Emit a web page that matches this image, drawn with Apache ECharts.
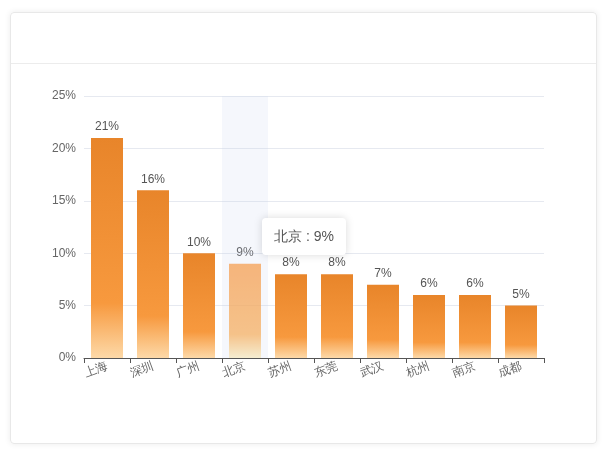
<!DOCTYPE html>
<html><head><meta charset="utf-8">
<script src="https://cdn.jsdelivr.net/npm/echarts@6/dist/echarts.min.js"></script>
<style>
body{margin:0;background:#fff;}
#card{position:absolute;left:10px;top:12px;width:587px;height:432px;border:1px solid #e8e8e8;border-radius:4px;box-shadow:0 0 6px rgba(0,0,0,0.08);box-sizing:border-box;}
#head{height:50px;border-bottom:1px solid #ececec;}
#c{position:absolute;left:0;top:0;width:616px;height:459px;}
</style></head><body>
<div id="card"><div id="head"></div></div>
<div id="c"></div>
<script>
const categories=['上海','深圳','广州','北京','苏州','东莞','武汉','杭州','南京','成都'];
const values=[21,16,10,9,8,8,7,6,6,5];
const yTicks=[0,5,10,15,20,25];
const chart=echarts.init(document.getElementById('c'));
chart.setOption({
 animation:false,
 tooltip:{trigger:'axis',axisPointer:{type:'shadow',shadowStyle:{color:'rgba(200,210,240,0.18)'}},
  formatter:p=>p[0].name+' : '+p[0].value+'%',backgroundColor:'#fff',borderWidth:0,
  textStyle:{color:'#555',fontSize:14},padding:[8,12],extraCssText:'box-shadow:0 0 8px rgba(0,0,0,0.15);'},
 grid:{left:84,right:72,top:96,bottom:101},
 xAxis:{type:'category',data:categories,axisTick:{show:true,alignWithLabel:false},
  axisLine:{lineStyle:{color:'#555'}},axisLabel:{rotate:20,color:'#666',fontSize:12,interval:0}},
 yAxis:{type:'value',min:0,max:25,interval:5,axisLabel:{formatter:'{value}%',color:'#666',fontSize:12},
  splitLine:{lineStyle:{color:'#e6e9f0'}}},
 series:[{type:'bar',data:values,barWidth:32,
  label:{show:true,position:'top',formatter:'{c}%',color:'#555',fontSize:12},
  itemStyle:{color:new echarts.graphic.LinearGradient(0,0,0,1,[
   {offset:0,color:'#e8852a'},{offset:0.75,color:'#f7993e'},{offset:1,color:'#fdd9a8'}])},
  emphasis:{itemStyle:{opacity:0.75}}}]
});
chart.dispatchAction({type:'showTip',seriesIndex:0,dataIndex:3,position:[262,218]});
</script></body></html>
